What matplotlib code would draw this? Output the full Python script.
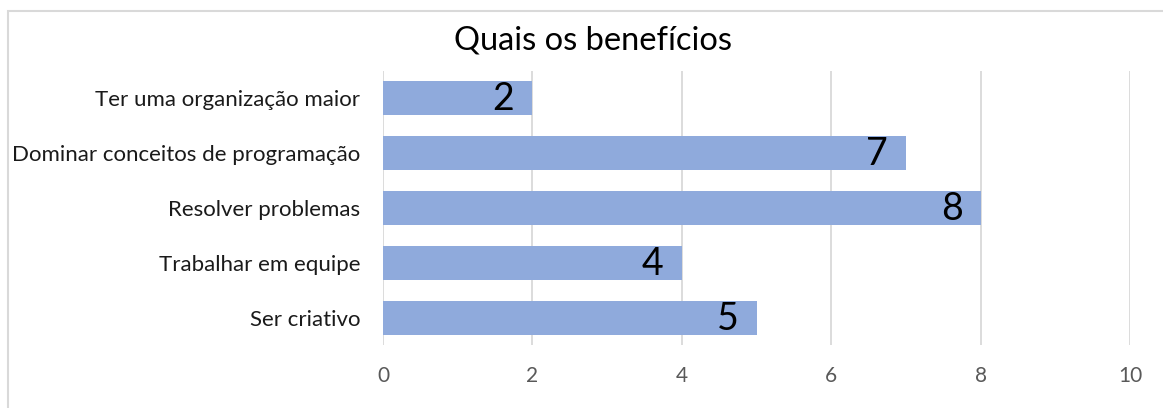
import matplotlib.pyplot as plt
from matplotlib.patches import Rectangle

# dados do gráfico
categorias = ['Ter uma organização maior', 'Dominar conceitos de programação',
              'Resolver problemas', 'Trabalhar em equipe', 'Ser criativo']
valores = [2, 7, 8, 4, 5]
titulo = 'Quais os benefícios'
ticks_x = [0, 2, 4, 6, 8, 10]

plt.rcParams['font.family'] = ['Lato', 'DejaVu Sans']

fig = plt.figure(figsize=(11.63, 4.08), dpi=100)
W, H = 1163, 408
# posição do eixo em pixels: x 383..1130, y 71..345
ax = fig.add_axes([383 / W, 1 - 345 / H, (1130 - 383) / W, (345 - 71) / H])

y = list(range(len(categorias)))
ax.barh(y, valores, height=0.62, color='#8FAADC', zorder=2)
ax.set_ylim(len(categorias) - 0.5, -0.5)
ax.set_xlim(0, 10)
ax.set_xticks(ticks_x)
ax.set_yticks(y)
ax.set_yticklabels(categorias, fontsize=16, color='#1a1a1a')
ax.tick_params(axis='x', length=0, pad=15, labelsize=15, labelcolor='#595959')
ax.tick_params(axis='y', length=0, pad=16.5)
ax.grid(axis='x', color='#D9D9D9', linewidth=1.3, zorder=0)
for s in ax.spines.values():
    s.set_visible(False)

for yi, v in zip(y, valores):
    ax.text(v - 0.24, yi + 0.02, str(v), ha='right', va='center', fontsize=27, color='black', zorder=3)

fig.text(593 / W, 1 - 40 / H, titulo, ha='center', va='center', fontsize=23.5, color='black')

# moldura do gráfico
fig.patches.append(Rectangle((8 / W, -0.1), 1.2, 1 - 11 / H + 0.1, transform=fig.transFigure,
                             fill=False, edgecolor='#D9D9D9', linewidth=1.5))

fig.savefig('out.png', dpi=100)
